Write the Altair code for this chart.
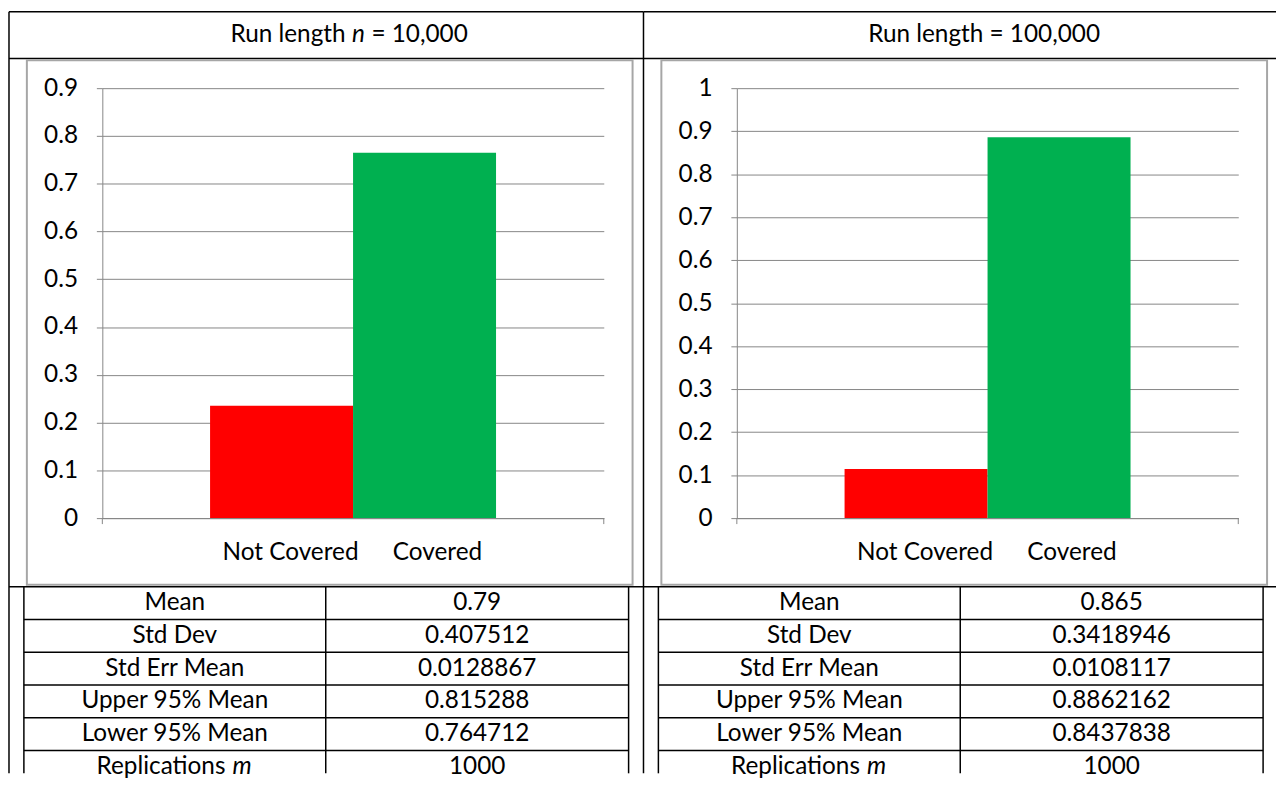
import altair as alt
import pandas as pd

# ---------------- data ----------------
categories = ["Not Covered", "Covered"]
cat_colors = ["#FF0000", "#00B050"]
share_n10k = [0.235, 0.765]
share_n100k = [0.114, 0.886]
y_ticks_n10k = [0, 0.1, 0.2, 0.3, 0.4, 0.5, 0.6, 0.7, 0.8, 0.9]
y_ticks_n100k = [0, 0.1, 0.2, 0.3, 0.4, 0.5, 0.6, 0.7, 0.8, 0.9, 1]
stat_labels = ["Mean", "Std Dev", "Std Err Mean", "Upper 95% Mean",
               "Lower 95% Mean", "Replications m"]
stats_n10k = [0.79, 0.407512, 0.0128867, 0.815288, 0.764712, 1000]
stats_n100k = [0.865, 0.3418946, 0.0108117, 0.8862162, 0.8437838, 1000]
header_n10k = ["Run length", "n", "= 10,000"]
header_n100k = ["Run length = 100,000"]

# ---------------- style ----------------
FONT = "Lato"
FS = 24.5
GRID = "#868686"
FRAME = "#a6a6a6"
W, H = 505, 433
ROW_H = 33
ROW0 = 518.5
BOT = 690
ONE = pd.DataFrame({"k": [0]})


def seg(x, y, x2, y2, color="black", w=1.5):
    return alt.Chart(ONE).mark_rule(color=color, strokeWidth=w).encode(
        x=alt.value(x), y=alt.value(y), x2=alt.value(x2), y2=alt.value(y2))


def label(text, x, y, align="center", style="normal"):
    return alt.Chart(ONE).mark_text(
        text=text, font=FONT, fontSize=FS, color="black", align=align,
        baseline="middle", fontStyle=style).encode(x=alt.value(x), y=alt.value(y))


def column(shares, y_max, y_ticks, stats, header, left_border):
    layers = []
    x_left = -94
    x_right = 545 if left_border else 543
    # cell borders (black)
    for yy in (-77, -30, 502):
        layers.append(seg(x_left, yy, x_right, yy))
    if left_border:
        layers.append(seg(x_left, -77, x_left, BOT))
        layers.append(seg(545, -77, 545, BOT))
    # chart frame (grey)
    layers.append(alt.Chart(ONE).mark_rect(fillOpacity=0, stroke=FRAME, strokeWidth=2).encode(
        x=alt.value(-76), x2=alt.value(534), y=alt.value(-28), y2=alt.value(500)))
    # stats table borders
    for xx in (-79, 225, 530):
        layers.append(seg(xx, 502, xx, BOT))
    for k in range(1, 6):
        yy = 502 + ROW_H * k
        layers.append(seg(-79, yy, 530, yy))
    # header
    if len(header) == 3:
        layers.append(label(header[0], 245, -53.5, align="right"))
        layers.append(label(header[1], 258, -53.5, style="italic"))
        layers.append(label(header[2], 271, -53.5, align="left"))
    else:
        layers.append(label(header[0], 249, -53.5))

    # bars
    df = pd.DataFrame({"category": categories, "share": shares, "color": cat_colors})
    bars = alt.Chart(df).mark_bar().encode(
        x=alt.X("category:N", sort=categories,
                scale=alt.Scale(paddingInner=0, paddingOuter=0.7535),
                axis=alt.Axis(title=None, labelAngle=0, ticks=False, domainColor=GRID,
                              labelFont=FONT, labelFontSize=FS, labelColor="black",
                              labelPadding=35, labelBaseline="middle",
                              labelOffset={"condition": {"test": "datum.value === 'Covered'", "value": 13},
                                           "value": 9})),
        y=alt.Y("share:Q", scale=alt.Scale(domain=[0, y_max], nice=False),
                axis=alt.Axis(title=None, values=y_ticks, format="~g", grid=True,
                              gridColor=GRID, gridWidth=1, domainColor=GRID, tickColor=GRID,
                              tickSize=6, labelFont=FONT, labelFontSize=FS,
                              labelColor="black", labelPadding=19)),
        color=alt.Color("color:N", scale=None),
    )
    layers.append(bars)
    # small category-boundary ticks below the x axis
    layers.append(seg(0, H, 0, H + 6, color=GRID, w=1))
    layers.append(seg(W, H, W, H + 6, color=GRID, w=1))

    # table text
    tdf = pd.DataFrame({
        "stat": stat_labels,
        "label": [s if s != "Replications m" else "" for s in stat_labels],
        "value": [str(v) for v in stats],
    })
    yscale = alt.Scale(type="point", domain=stat_labels,
                       range=[ROW0, ROW0 + ROW_H * (len(stat_labels) - 1)], padding=0)
    ych = alt.Y("stat:O", scale=yscale, axis=None)
    layers.append(alt.Chart(tdf).mark_text(font=FONT, fontSize=FS, color="black",
                                           baseline="middle").encode(
        x=alt.value(73), y=ych, text="label:N"))
    layers.append(alt.Chart(tdf).mark_text(font=FONT, fontSize=FS, color="black",
                                           baseline="middle").encode(
        x=alt.value(377.5), y=ych, text="value:N"))
    rep = pd.DataFrame({"stat": ["Replications m"]})
    layers.append(alt.Chart(rep).mark_text(text="Replications", font=FONT, fontSize=FS,
                                           color="black", baseline="middle", align="right").encode(
        x=alt.value(124), y=ych))
    layers.append(alt.Chart(rep).mark_text(text="m", font=FONT, fontSize=FS, fontStyle="italic",
                                           color="black", baseline="middle", align="left").encode(
        x=alt.value(131), y=ych))

    return alt.layer(*layers).resolve_scale(y="independent").properties(width=W, height=H)


c1 = column(share_n10k, 0.9, y_ticks_n10k, stats_n10k, header_n10k, True)
c2 = column(share_n100k, 1.0, y_ticks_n100k, stats_n100k, header_n100k, False)

chart = alt.hconcat(c1, c2, spacing=134, bounds="flush").properties(
    padding=0, background="white"
).configure_view(strokeWidth=0)

chart.save("out.html", embed_options={"renderer": "svg", "actions": False})
